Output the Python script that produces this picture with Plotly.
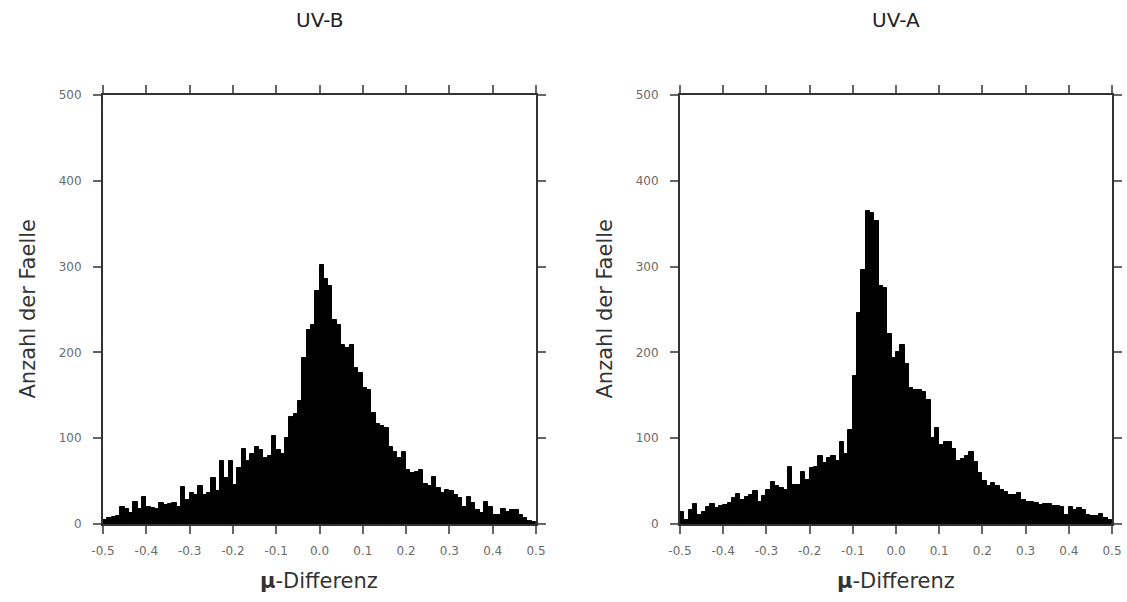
import numpy as np
import plotly.graph_objects as go

# Histogram bins: 100 bins of width 0.01 from -0.5 to 0.5
BIN_START = -0.5
BIN_WIDTH = 0.01

uvb_counts = [
    5, 7, 8, 9, 20, 18, 13, 26, 17, 31,
    20, 19, 18, 25, 22, 23, 25, 20, 43, 28,
    36, 34, 44, 34, 36, 54, 39, 73, 54, 73,
    45, 65, 88, 73, 82, 90, 86, 77, 79, 102,
    86, 82, 100, 125, 128, 143, 193, 226, 232, 271,
    302, 285, 277, 238, 232, 209, 205, 209, 182, 176,
    158, 156, 129, 116, 114, 112, 90, 84, 77, 84,
    63, 59, 61, 63, 47, 44, 55, 42, 36, 40,
    38, 34, 30, 20, 32, 24, 16, 13, 26, 20,
    11, 11, 18, 14, 16, 16, 11, 7, 4, 2,
]

uva_counts = [
    14, 5, 16, 23, 10, 14, 20, 23, 19, 21,
    22, 24, 30, 35, 28, 32, 34, 39, 26, 33,
    40, 49, 44, 42, 40, 67, 45, 46, 61, 51,
    65, 67, 79, 71, 77, 79, 73, 96, 82, 110,
    172, 246, 296, 365, 363, 353, 277, 275, 221, 193,
    201, 209, 186, 158, 156, 156, 154, 145, 100, 112,
    92, 96, 96, 88, 73, 76, 79, 84, 72, 59,
    50, 44, 48, 44, 40, 37, 34, 34, 36, 28,
    26, 26, 24, 22, 23, 23, 21, 21, 20, 11,
    20, 16, 19, 16, 10, 9, 9, 12, 7, 5,
]

panel_titles = ["UV-B", "UV-A"]
x_title = "<b>µ</b>-Differenz"
y_title = "Anzahl der Faelle"
x_tickvals = [-0.5, -0.4, -0.3, -0.2, -0.1, 0.0, 0.1, 0.2, 0.3, 0.4, 0.5]
x_ticktext = ["-0.5", "-0.4", "-0.3", "-0.2", "-0.1", "0.0", "0.1", "0.2", "0.3", "0.4", "0.5"]
y_tickvals = [0, 100, 200, 300, 400, 500]

centers = BIN_START + BIN_WIDTH * (np.arange(len(uvb_counts)) + 0.5)

W, H = 1127, 602
fig = go.Figure()

for counts, xa, ya in [(uvb_counts, "x", "y"), (uva_counts, "x2", "y2")]:
    fig.add_trace(go.Bar(x=centers, y=counts, width=BIN_WIDTH, xaxis=xa, yaxis=ya,
                         marker=dict(color="black", line=dict(color="black", width=1)),
                         showlegend=False, hoverinfo="x+y"))

ydom = [(H - 524) / H, (H - 95) / H]
dom1 = [103 / W, 536 / W]
dom2 = [680 / W, 1112 / W]

tickfont = dict(family="DejaVu Sans", size=12, color="#6a6a6a")
axis_common = dict(
    showline=True, linecolor="#333", linewidth=2, mirror="ticks",
    ticks="outside", ticklen=8, tickwidth=1.5, tickcolor="#666",
    showgrid=False, zeroline=False, automargin=False, tickfont=tickfont,
)

fig.update_layout(
    width=W, height=H,
    margin=dict(l=0, r=0, t=0, b=0),
    paper_bgcolor="white", plot_bgcolor="white",
    bargap=0, barmode="overlay",
    xaxis=dict(domain=dom1, range=[-0.5, 0.5], tickvals=x_tickvals, ticktext=x_ticktext,
               anchor="y", ticklabelstandoff=7, **axis_common),
    yaxis=dict(domain=ydom, range=[0, 500], tickvals=y_tickvals, anchor="x",
               ticklabelstandoff=9, **axis_common),
    xaxis2=dict(domain=dom2, range=[-0.5, 0.5], tickvals=x_tickvals, ticktext=x_ticktext,
                anchor="y2", ticklabelstandoff=7, **axis_common),
    yaxis2=dict(domain=ydom, range=[0, 500], tickvals=y_tickvals, anchor="x2",
                ticklabelstandoff=9, **axis_common),
)

title_font = dict(family="DejaVu Sans", size=20, color="#222")
label_font = dict(family="DejaVu Sans", size=21, color="#333")

annotations = []
for dom, t in zip([dom1, dom2], panel_titles):
    cx = (dom[0] + dom[1]) / 2
    annotations.append(dict(text=t, x=cx, y=1 - 20 / H, xref="paper", yref="paper",
                            showarrow=False, font=title_font, xanchor="center", yanchor="middle"))
    annotations.append(dict(text=x_title, x=cx, y=1 - 581 / H, xref="paper", yref="paper",
                            showarrow=False, font=label_font, xanchor="center", yanchor="middle"))
    annotations.append(dict(text=y_title, x=dom[0] - 76 / W, y=(ydom[0] + ydom[1]) / 2,
                            xref="paper", yref="paper", textangle=-90,
                            showarrow=False, font=label_font, xanchor="center", yanchor="middle"))
fig.update_layout(annotations=annotations)

fig.write_html("out.html")
